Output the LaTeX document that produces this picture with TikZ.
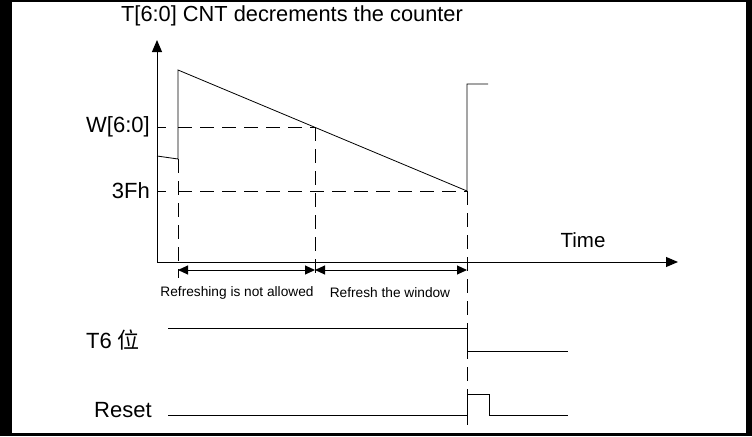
\documentclass[tikz,border=0pt]{standalone}
\usepackage{fontspec}
\setmainfont{Liberation Sans}
\newfontfamily\cjk{Noto Sans CJK SC}
\usetikzlibrary{arrows.meta}
\begin{document}
\begin{tikzpicture}[x=1pt,y=-1pt,
  sig/.style={line width=0.8pt},
  dsh/.style={line width=0.8pt,dash pattern=on 14pt off 8pt},
  lbl/.style={font=\fontsize{22}{24}\selectfont,inner sep=0pt},
  sml/.style={font=\fontsize{13.7}{15}\selectfont,inner sep=0pt},
  arr/.style={line width=1pt,-{Triangle[length=12pt,width=10pt]}}]
\fill[black] (0,0) rectangle (752,436);
\fill[white] (12,2) rectangle (746,433);
\coordinate (o) at (157,262);
\coordinate (ytip) at (157,40);
\coordinate (xtip) at (678,262);
\draw[arr] (o) -- (ytip);
\draw[arr] (o) -- (xtip);
\node[lbl,font=\fontsize{21.8}{24}\selectfont] (title) at (292,16) {T[6:0] CNT decrements the counter};
\node[lbl,anchor=east] (w) at (150,127) {W[6:0]};
\node[lbl,anchor=east] (f) at (150,191) {3Fh};
\node[lbl,font=\fontsize{20.5}{22}\selectfont] (time) at (583,240) {Time};
\coordinate (wt) at (166,127); \coordinate (ft) at (166,191);
\draw[sig] (157,127) -- (wt);
\draw[sig] (157,191) -- (ft);
\draw[dsh] (178,127) -- (315,127);
\draw[dsh] (178,191) -- (467,191);
\draw[dsh] (178,159) -- (178,278);
\draw[dsh] (315,127) -- (315,278);
\draw[dsh] (467,191) -- (467,436);
\draw[sig] (157,156) -- (178,159) -- (178,70) -- (467,191) -- (467,84) -- (488,84);
\coordinate (a1) at (178,270); \coordinate (a2) at (315,270); \coordinate (a3) at (467,270);
\draw[line width=1pt,{Triangle[length=10pt,width=9pt]}-{Triangle[length=10pt,width=9pt]}] (a1) -- (a2);
\draw[line width=1pt,{Triangle[length=10pt,width=9pt]}-{Triangle[length=10pt,width=9pt]}] (a2) -- (a3);
\node[sml] (n1) at (237,293) {Refreshing is not allowed};
\node[sml] (n2) at (390,293) {Refresh the window};
\node[lbl,anchor=west] (t6) at (86,340) {T6 {\cjk 位}};
\draw[sig] (168,328) -- (467,328) -- (467,351) -- (568,351);
\node[lbl,anchor=west] (rs) at (94,410) {Reset};
\draw[sig] (168,415) -- (467,415) -- (467,394) -- (489,394) -- (489,415) -- (568,415);
\end{tikzpicture}
\end{document}
